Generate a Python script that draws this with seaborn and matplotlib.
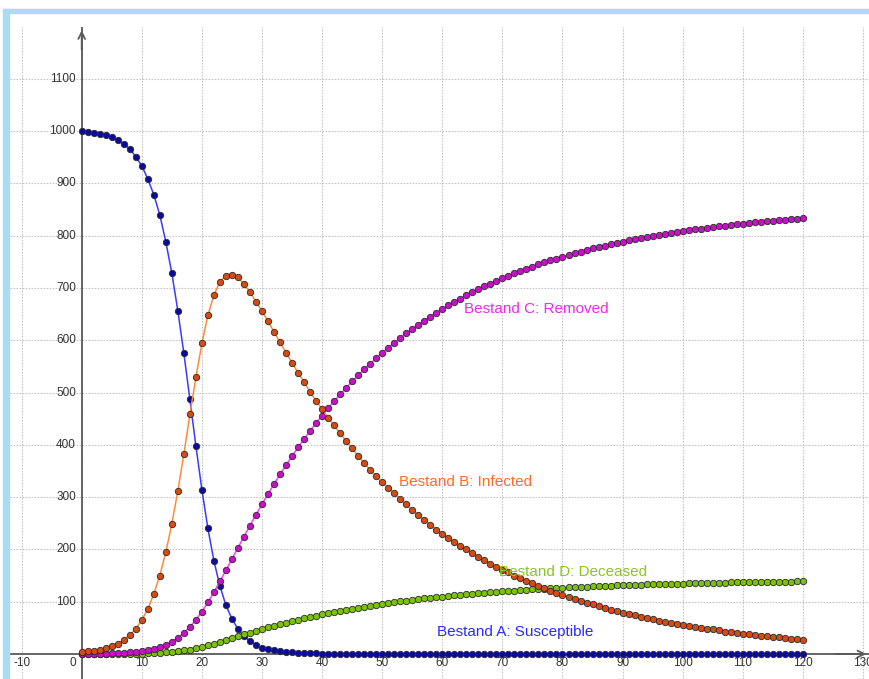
# SIR-style compartment model chart (GeoGebra look), redrawn with seaborn

import matplotlib
matplotlib.use("Agg")
import matplotlib.pyplot as plt
import seaborn as sns
from matplotlib.patches import Rectangle

days = list(range(121))

susceptible = [
    1000, 998.7, 996.7, 994, 991.8, 987.9, 982, 975, 965.6, 950.9,
    933.6, 908.2, 878.2, 839.4, 788, 728, 656, 575, 487, 398,
    314, 240, 178, 130, 93, 67, 48, 34, 25, 17,
    12, 9, 6.7, 5, 3.8, 2.9, 2.2, 1.7, 1.3, 1.1,
    0.9, 0.7, 0.6, 0.5, 0.4, 0.3, 0.3, 0.2, 0.2, 0.2,
    0.1, 0.1, 0.1, 0.1, 0.1, 0.1, 0.1, 0.1, 0.1, 0.1,
    0.0, 0.0, 0.0, 0.0, 0.0, 0.0, 0.0, 0.0, 0.0, 0.0,
    0.0, 0.0, 0.0, 0.0, 0.0, 0.0, 0.0, 0.0, 0.0, 0.0,
    0.0, 0.0, 0.0, 0.0, 0.0, 0.0, 0.0, 0.0, 0.0, 0.0,
    0.0, 0.0, 0.0, 0.0, 0.0, 0.0, 0.0, 0.0, 0.0, 0.0,
    0.0, 0.0, 0.0, 0.0, 0.0, 0.0, 0.0, 0.0, 0.0, 0.0,
    0.0, 0.0, 0.0, 0.0, 0.0, 0.0, 0.0, 0.0, 0.0, 0.0,
    0.0,
]

infected = [
    3, 5, 6.5, 8.5, 11, 15, 20, 27, 36, 48,
    65, 86, 115, 150, 195, 249, 312, 382, 458, 529,
    594, 648, 686, 712, 723, 725, 720, 707, 692, 674,
    656, 636, 616, 596, 576, 557, 538, 520, 501, 484,
    468, 452, 437, 422, 407, 393, 379, 365, 352, 340,
    328, 318, 307, 296, 286, 275, 265, 256, 247, 238,
    230, 222, 214, 207, 200, 193, 186, 180, 173, 167,
    161, 156, 150, 145, 140, 135, 130, 126, 121, 117,
    113, 109, 105, 102, 98, 95, 91, 88, 85, 82,
    79, 77, 74, 71, 69, 66, 64, 62, 60, 58,
    56, 54, 52, 50, 48, 47, 45, 43, 42, 40,
    39, 38, 36, 35, 34, 33, 32, 30, 29, 28,
    27,
]

removed = [
    0, 0.1, 0.2, 0.4, 0.7, 1.0, 1.5, 2.1, 2.9, 3.9,
    5.4, 7.3, 9.9, 13.3, 17.8, 23.6, 31.0, 40.3, 51.7, 65.4,
    81.2, 98.9, 118.2, 138.7, 159.9, 181.5, 203.1, 224.6, 245.7, 266.3,
    286.4, 306.0, 325.0, 343.3, 361.1, 378.3, 394.9, 411.0, 426.5, 441.4,
    455.9, 469.8, 483.3, 496.3, 508.9, 521.1, 532.8, 544.1, 555.0, 565.5,
    575.6, 585.4, 594.9, 604.1, 612.9, 621.4, 629.6, 637.5, 645.2, 652.5,
    659.6, 666.5, 673.1, 679.5, 685.7, 691.6, 697.4, 702.9, 708.3, 713.5,
    718.5, 723.3, 727.9, 732.4, 736.7, 740.9, 744.9, 748.8, 752.5, 756.2,
    759.7, 763.0, 766.3, 769.4, 772.5, 775.4, 778.2, 780.9, 783.5, 786.1,
    788.5, 790.9, 793.2, 795.4, 797.5, 799.6, 801.5, 803.4, 805.3, 807.1,
    808.8, 810.5, 812.1, 813.6, 815.1, 816.6, 818.0, 819.3, 820.6, 821.9,
    823.0, 824.2, 825.3, 826.4, 827.5, 828.5, 829.5, 830.4, 831.3, 832.2,
    833.0,
]

deceased = [
    0, 0.0, 0.0, 0.1, 0.1, 0.2, 0.2, 0.3, 0.5, 0.7,
    0.9, 1.2, 1.6, 2.2, 3.0, 3.9, 5.2, 6.7, 8.6, 10.9,
    13.5, 16.5, 19.7, 23.1, 26.7, 30.3, 33.9, 37.4, 41.0, 44.4,
    47.7, 51.0, 54.2, 57.2, 60.2, 63.1, 65.8, 68.5, 71.1, 73.6,
    76.0, 78.3, 80.6, 82.7, 84.8, 86.9, 88.8, 90.7, 92.5, 94.3,
    95.9, 97.6, 99.2, 100.7, 102.2, 103.6, 104.9, 106.3, 107.5, 108.8,
    109.9, 111.1, 112.2, 113.3, 114.3, 115.3, 116.2, 117.2, 118.1, 118.9,
    119.8, 120.6, 121.3, 122.1, 122.8, 123.5, 124.2, 124.8, 125.4, 126.0,
    126.6, 127.2, 127.7, 128.2, 128.8, 129.2, 129.7, 130.2, 130.6, 131.0,
    131.4, 131.8, 132.2, 132.6, 132.9, 133.3, 133.6, 133.9, 134.2, 134.5,
    134.8, 135.1, 135.4, 135.6, 135.9, 136.1, 136.3, 136.6, 136.8, 137.0,
    137.2, 137.4, 137.6, 137.7, 137.9, 138.1, 138.3, 138.4, 138.6, 138.7,
    138.8,
]

x_ticks = list(range(-10, 131, 10))
y_ticks = list(range(100, 1101, 100))

# label text, label position, line colour, marker fill, text colour
series = [
    ("Bestand A: Susceptible", susceptible, (72.2, 42), "#3a3aff", "#0a0aa0", "#2b2bff"),
    ("Bestand D: Deceased", deceased, (81.7, 156), "#88c800", "#7cc20a", "#8cc61e"),
    ("Bestand C: Removed", removed, (75.6, 659), "#ff3cff", "#c810c8", "#f028f0"),
    ("Bestand B: Infected", infected, (63.8, 328), "#ff8a3a", "#d84a10", "#ff6a28"),
]

sns.set_style("white")
plt.rcParams["font.family"] = ["Liberation Sans", "DejaVu Sans"]

fig = plt.figure(figsize=(8.69, 6.79), dpi=100)
fig.patch.set_facecolor("white")
ax = fig.add_axes([10 / 869, 0, 859 / 869, 652 / 679])
ax.set_xlim(-11.93, 131.0)
ax.set_ylim(-47.8, 1198.9)
for s in ax.spines.values():
    s.set_visible(False)

# dotted grid, kept faint like the original view
ax.set_xticks(x_ticks)
ax.set_yticks(y_ticks)
ax.tick_params(length=0, labelbottom=False, labelleft=False)
ax.grid(True, color="#c6c6c6", lw=0.8, ls=(0, (1.5, 1.2)))

# axes through the origin, with arrow heads
axis_col = "#5a5a5a"
ax.axhline(0, color=axis_col, lw=1.3, zorder=2)
ax.axvline(0, color=axis_col, lw=1.3, zorder=2)
ax.annotate("", xy=(0, 1198), xytext=(0, 1150),
            arrowprops=dict(arrowstyle="->", color=axis_col, lw=1.3, mutation_scale=12))
ax.annotate("", xy=(131, 0), xytext=(125, 0),
            arrowprops=dict(arrowstyle="->", color=axis_col, lw=1.3, mutation_scale=12))

for name, vals, pos, line_col, face_col, text_col in series:
    sns.lineplot(x=days, y=vals, ax=ax, color=line_col, lw=1.1, zorder=3,
                 marker="o", markersize=4.6, markerfacecolor=face_col,
                 markeredgecolor="#2a2a2a", markeredgewidth=0.6)
    ax.text(pos[0], pos[1], name, color=text_col, fontsize=11,
            ha="center", va="center", zorder=5)

# axis numbers
lab_col = "#333333"
for xv in x_ticks:
    if xv == 0:
        ax.text(-1.45, -17, "0", color=lab_col, fontsize=8.5, ha="center", va="center")
    else:
        ax.text(xv, -17, str(xv), color=lab_col, fontsize=8.5, ha="center", va="center")
for yv in y_ticks:
    ax.text(-0.95, yv, str(yv), color=lab_col, fontsize=8.5, ha="right", va="center")

# light blue frame of the view
frame_col = "#a9dcf4"
fig.patches.append(Rectangle((3 / 869, 0), 6 / 869, 670 / 679,
                             transform=fig.transFigure, color=frame_col, zorder=10))
fig.patches.append(Rectangle((3 / 869, 666 / 679), 866 / 869, 4 / 679,
                             transform=fig.transFigure, color=frame_col, zorder=10))

fig.savefig("out.png", dpi=100)
